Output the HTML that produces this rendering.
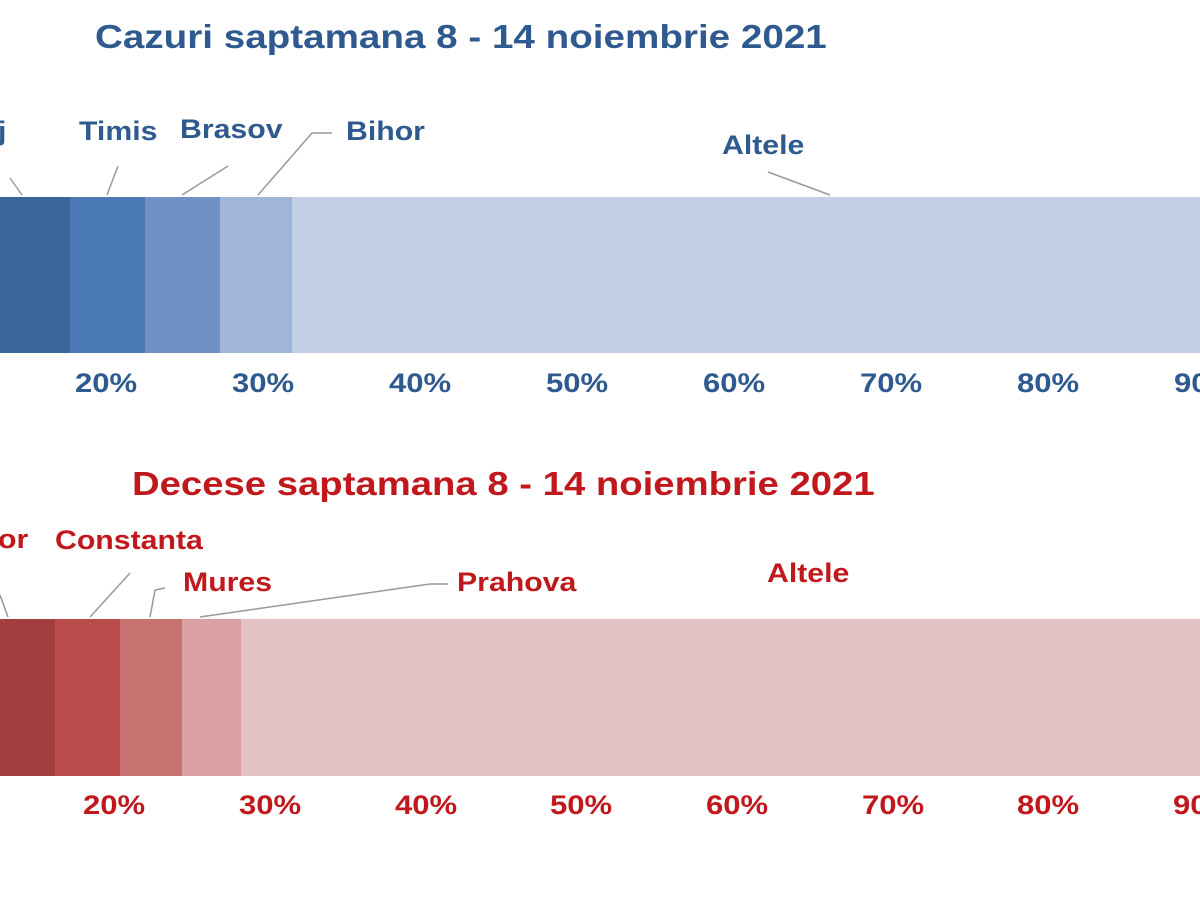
<!DOCTYPE html>
<html><head><meta charset="utf-8"><style>
body{margin:0;width:1200px;height:900px;background:#fff;overflow:hidden;position:relative;font-family:"Liberation Sans",Arial,sans-serif;font-weight:bold}
.t{position:absolute;white-space:nowrap;transform-origin:0 0}
.b{color:#2f5a8f}.r{color:#c0181d}
.seg{position:absolute}
.l{transform:scaleX(1.12)}
.k{transform:scaleX(1.15)}
</style></head><body>
<div class="t b" style="left:95px;top:18px;font-size:33px;transform:scaleX(1.17)">Cazuri saptamana 8 - 14 noiembrie 2021</div>
<div class="seg" style="left:0;top:197px;width:70px;height:156px;background:#3b6498"></div>
<div class="seg" style="left:70px;top:197px;width:75px;height:156px;background:#4a79b6"></div>
<div class="seg" style="left:145px;top:197px;width:75px;height:156px;background:#7091c5"></div>
<div class="seg" style="left:220px;top:197px;width:72px;height:156px;background:#a2b4d8"></div>
<div class="seg" style="left:292px;top:197px;width:908px;height:156px;background:#c3cfe4"></div>
<div class="t b l" style="left:-2px;top:116px;font-size:27px">j</div>
<div class="t b l" style="left:79px;top:116px;font-size:27px">Timis</div>
<div class="t b l" style="left:180px;top:114px;font-size:27px">Brasov</div>
<div class="t b l" style="left:346px;top:116px;font-size:27px">Bihor</div>
<div class="t b l" style="left:722px;top:130px;font-size:27px">Altele</div>
<div class="t r" style="left:132px;top:465px;font-size:33px;transform:scaleX(1.16)">Decese saptamana 8 - 14 noiembrie 2021</div>
<div class="seg" style="left:0;top:619px;width:55px;height:157px;background:#a33e3f"></div>
<div class="seg" style="left:55px;top:619px;width:65px;height:157px;background:#b94b4b"></div>
<div class="seg" style="left:120px;top:619px;width:62px;height:157px;background:#c87171"></div>
<div class="seg" style="left:182px;top:619px;width:59px;height:157px;background:#d9a1a1"></div>
<div class="seg" style="left:241px;top:619px;width:959px;height:157px;background:#e3c3c6"></div>
<div class="t r l" style="left:-2px;top:524px;font-size:27px">or</div>
<div class="t r l" style="left:55px;top:525px;font-size:27px">Constanta</div>
<div class="t r l" style="left:183px;top:567px;font-size:27px">Mures</div>
<div class="t r l" style="left:457px;top:567px;font-size:27px">Prahova</div>
<div class="t r l" style="left:767px;top:558px;font-size:27px">Altele</div>
<svg width="1200" height="900" style="position:absolute;left:0;top:0" fill="none" stroke="#999" stroke-width="1.5">
<path d="M22 195 L10 178"/><path d="M107 195 L118 166"/><path d="M182 195 L228 166"/>
<path d="M258 195 L312 133 L332 133"/><path d="M830 195 L768 172"/>
<path d="M8 617 L0 595"/><path d="M90 617 L130 573"/><path d="M150 617 L155 590 L165 588"/>
<path d="M200 617 L430 584 L448 584"/>
</svg>
<div class="b" style="position:absolute;top:368px;left:0;width:1200px;font-size:27px">
<span class="t k" style="left:75px">20%</span><span class="t k" style="left:232px">30%</span><span class="t k" style="left:389px">40%</span><span class="t k" style="left:546px">50%</span><span class="t k" style="left:703px">60%</span><span class="t k" style="left:860px">70%</span><span class="t k" style="left:1017px">80%</span><span class="t k" style="left:1174px">90%</span></div>
<div class="r" style="position:absolute;top:790px;left:0;width:1200px;font-size:27px">
<span class="t k" style="left:83px">20%</span><span class="t k" style="left:239px">30%</span><span class="t k" style="left:395px">40%</span><span class="t k" style="left:550px">50%</span><span class="t k" style="left:706px">60%</span><span class="t k" style="left:862px">70%</span><span class="t k" style="left:1017px">80%</span><span class="t k" style="left:1173px">90%</span></div>
</body></html>
